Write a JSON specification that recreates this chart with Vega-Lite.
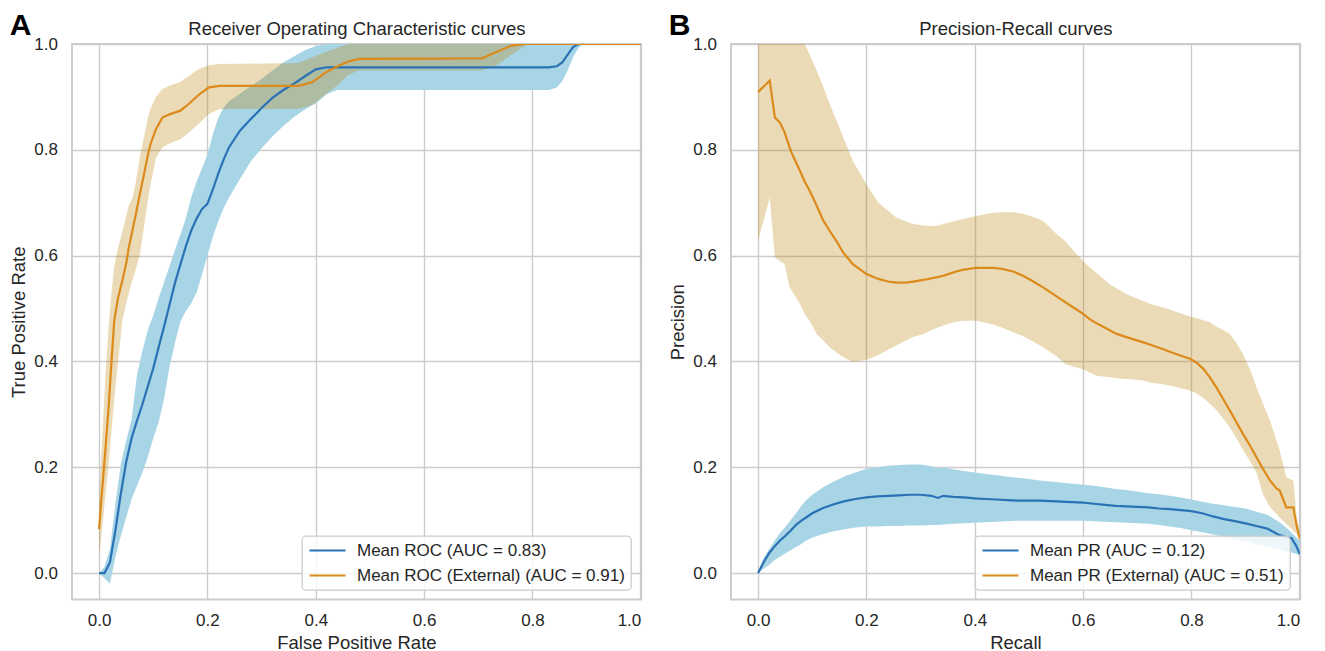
{
  "$schema": "https://vega.github.io/schema/vega-lite/v6.json",
  "padding": {"left": 8, "top": 9, "right": 5, "bottom": 3},
  "spacing": 25,
  "background": "white",
  "resolve": {"scale": {"color": "independent"}, "legend": {"color": "independent"}},
  "datasets": {
    "roc": [
      {"m": "Mean ROC (AUC = 0.83)", "x": 0, "mean": 0, "lo": 0, "hi": 0},
      {"m": "Mean ROC (AUC = 0.83)", "x": 0.01, "mean": 0, "lo": -0.01, "hi": 0.012},
      {"m": "Mean ROC (AUC = 0.83)", "x": 0.02, "mean": 0.02, "lo": -0.02, "hi": 0.045},
      {"m": "Mean ROC (AUC = 0.83)", "x": 0.03, "mean": 0.08, "lo": 0.03, "hi": 0.13},
      {"m": "Mean ROC (AUC = 0.83)", "x": 0.04, "mean": 0.149, "lo": 0.07, "hi": 0.205},
      {"m": "Mean ROC (AUC = 0.83)", "x": 0.05, "mean": 0.21, "lo": 0.105, "hi": 0.25},
      {"m": "Mean ROC (AUC = 0.83)", "x": 0.06, "mean": 0.255, "lo": 0.14, "hi": 0.29},
      {"m": "Mean ROC (AUC = 0.83)", "x": 0.07, "mean": 0.288, "lo": 0.165, "hi": 0.375},
      {"m": "Mean ROC (AUC = 0.83)", "x": 0.08, "mean": 0.319, "lo": 0.19, "hi": 0.42},
      {"m": "Mean ROC (AUC = 0.83)", "x": 0.09, "mean": 0.353, "lo": 0.22, "hi": 0.46},
      {"m": "Mean ROC (AUC = 0.83)", "x": 0.1, "mean": 0.387, "lo": 0.255, "hi": 0.487},
      {"m": "Mean ROC (AUC = 0.83)", "x": 0.11, "mean": 0.427, "lo": 0.285, "hi": 0.52},
      {"m": "Mean ROC (AUC = 0.83)", "x": 0.12, "mean": 0.466, "lo": 0.33, "hi": 0.55},
      {"m": "Mean ROC (AUC = 0.83)", "x": 0.13, "mean": 0.507, "lo": 0.39, "hi": 0.58},
      {"m": "Mean ROC (AUC = 0.83)", "x": 0.14, "mean": 0.548, "lo": 0.435, "hi": 0.61},
      {"m": "Mean ROC (AUC = 0.83)", "x": 0.15, "mean": 0.583, "lo": 0.475, "hi": 0.64},
      {"m": "Mean ROC (AUC = 0.83)", "x": 0.16, "mean": 0.617, "lo": 0.495, "hi": 0.67},
      {"m": "Mean ROC (AUC = 0.83)", "x": 0.17, "mean": 0.647, "lo": 0.51, "hi": 0.71},
      {"m": "Mean ROC (AUC = 0.83)", "x": 0.18, "mean": 0.67, "lo": 0.53, "hi": 0.74},
      {"m": "Mean ROC (AUC = 0.83)", "x": 0.19, "mean": 0.688, "lo": 0.565, "hi": 0.765},
      {"m": "Mean ROC (AUC = 0.83)", "x": 0.2, "mean": 0.698, "lo": 0.6, "hi": 0.79},
      {"m": "Mean ROC (AUC = 0.83)", "x": 0.21, "mean": 0.725, "lo": 0.635, "hi": 0.83},
      {"m": "Mean ROC (AUC = 0.83)", "x": 0.22, "mean": 0.755, "lo": 0.665, "hi": 0.86},
      {"m": "Mean ROC (AUC = 0.83)", "x": 0.23, "mean": 0.782, "lo": 0.69, "hi": 0.88},
      {"m": "Mean ROC (AUC = 0.83)", "x": 0.24, "mean": 0.805, "lo": 0.71, "hi": 0.892},
      {"m": "Mean ROC (AUC = 0.83)", "x": 0.26, "mean": 0.836, "lo": 0.745, "hi": 0.906},
      {"m": "Mean ROC (AUC = 0.83)", "x": 0.28, "mean": 0.858, "lo": 0.778, "hi": 0.92},
      {"m": "Mean ROC (AUC = 0.83)", "x": 0.3, "mean": 0.879, "lo": 0.803, "hi": 0.934},
      {"m": "Mean ROC (AUC = 0.83)", "x": 0.32, "mean": 0.898, "lo": 0.825, "hi": 0.95},
      {"m": "Mean ROC (AUC = 0.83)", "x": 0.34, "mean": 0.913, "lo": 0.845, "hi": 0.965},
      {"m": "Mean ROC (AUC = 0.83)", "x": 0.36, "mean": 0.925, "lo": 0.862, "hi": 0.977},
      {"m": "Mean ROC (AUC = 0.83)", "x": 0.38, "mean": 0.939, "lo": 0.876, "hi": 0.988},
      {"m": "Mean ROC (AUC = 0.83)", "x": 0.4, "mean": 0.952, "lo": 0.888, "hi": 0.996},
      {"m": "Mean ROC (AUC = 0.83)", "x": 0.42, "mean": 0.956, "lo": 0.905, "hi": 1.0},
      {"m": "Mean ROC (AUC = 0.83)", "x": 0.44, "mean": 0.956, "lo": 0.913, "hi": 1.0},
      {"m": "Mean ROC (AUC = 0.83)", "x": 0.6, "mean": 0.956, "lo": 0.913, "hi": 1.0},
      {"m": "Mean ROC (AUC = 0.83)", "x": 0.83, "mean": 0.956, "lo": 0.913, "hi": 1.0},
      {"m": "Mean ROC (AUC = 0.83)", "x": 0.845, "mean": 0.958, "lo": 0.918, "hi": 1.0},
      {"m": "Mean ROC (AUC = 0.83)", "x": 0.855, "mean": 0.965, "lo": 0.93, "hi": 1.0},
      {"m": "Mean ROC (AUC = 0.83)", "x": 0.865, "mean": 0.98, "lo": 0.95, "hi": 1.0},
      {"m": "Mean ROC (AUC = 0.83)", "x": 0.875, "mean": 0.994, "lo": 0.975, "hi": 1.0},
      {"m": "Mean ROC (AUC = 0.83)", "x": 0.885, "mean": 1.0, "lo": 0.993, "hi": 1.0},
      {"m": "Mean ROC (AUC = 0.83)", "x": 0.895, "mean": 1.0, "lo": 1.0, "hi": 1.0},
      {"m": "Mean ROC (AUC = 0.83)", "x": 1.0, "mean": 1.0, "lo": 1.0, "hi": 1.0},
      {"m": "Mean ROC (External) (AUC = 0.91)", "x": 0, "mean": 0.083, "lo": 0.03, "hi": 0.14},
      {"m": "Mean ROC (External) (AUC = 0.91)", "x": 0.006, "mean": 0.162, "lo": 0.09, "hi": 0.26},
      {"m": "Mean ROC (External) (AUC = 0.91)", "x": 0.012, "mean": 0.238, "lo": 0.15, "hi": 0.38},
      {"m": "Mean ROC (External) (AUC = 0.91)", "x": 0.018, "mean": 0.319, "lo": 0.21, "hi": 0.47},
      {"m": "Mean ROC (External) (AUC = 0.91)", "x": 0.023, "mean": 0.401, "lo": 0.27, "hi": 0.53},
      {"m": "Mean ROC (External) (AUC = 0.91)", "x": 0.028, "mean": 0.477, "lo": 0.33, "hi": 0.58},
      {"m": "Mean ROC (External) (AUC = 0.91)", "x": 0.035, "mean": 0.52, "lo": 0.4, "hi": 0.615},
      {"m": "Mean ROC (External) (AUC = 0.91)", "x": 0.043, "mean": 0.553, "lo": 0.477, "hi": 0.645},
      {"m": "Mean ROC (External) (AUC = 0.91)", "x": 0.05, "mean": 0.585, "lo": 0.51, "hi": 0.675},
      {"m": "Mean ROC (External) (AUC = 0.91)", "x": 0.055, "mean": 0.616, "lo": 0.53, "hi": 0.695},
      {"m": "Mean ROC (External) (AUC = 0.91)", "x": 0.062, "mean": 0.65, "lo": 0.555, "hi": 0.71},
      {"m": "Mean ROC (External) (AUC = 0.91)", "x": 0.068, "mean": 0.679, "lo": 0.575, "hi": 0.74},
      {"m": "Mean ROC (External) (AUC = 0.91)", "x": 0.075, "mean": 0.715, "lo": 0.6, "hi": 0.785},
      {"m": "Mean ROC (External) (AUC = 0.91)", "x": 0.083, "mean": 0.754, "lo": 0.655, "hi": 0.825},
      {"m": "Mean ROC (External) (AUC = 0.91)", "x": 0.09, "mean": 0.79, "lo": 0.705, "hi": 0.86},
      {"m": "Mean ROC (External) (AUC = 0.91)", "x": 0.095, "mean": 0.811, "lo": 0.735, "hi": 0.878},
      {"m": "Mean ROC (External) (AUC = 0.91)", "x": 0.105, "mean": 0.839, "lo": 0.785, "hi": 0.9},
      {"m": "Mean ROC (External) (AUC = 0.91)", "x": 0.117, "mean": 0.861, "lo": 0.805, "hi": 0.915},
      {"m": "Mean ROC (External) (AUC = 0.91)", "x": 0.13, "mean": 0.867, "lo": 0.812, "hi": 0.921},
      {"m": "Mean ROC (External) (AUC = 0.91)", "x": 0.15, "mean": 0.874, "lo": 0.82, "hi": 0.928},
      {"m": "Mean ROC (External) (AUC = 0.91)", "x": 0.166, "mean": 0.887, "lo": 0.833, "hi": 0.94},
      {"m": "Mean ROC (External) (AUC = 0.91)", "x": 0.185, "mean": 0.905, "lo": 0.85, "hi": 0.953},
      {"m": "Mean ROC (External) (AUC = 0.91)", "x": 0.203, "mean": 0.918, "lo": 0.868, "hi": 0.96},
      {"m": "Mean ROC (External) (AUC = 0.91)", "x": 0.222, "mean": 0.921, "lo": 0.877, "hi": 0.962},
      {"m": "Mean ROC (External) (AUC = 0.91)", "x": 0.369, "mean": 0.921, "lo": 0.877, "hi": 0.964},
      {"m": "Mean ROC (External) (AUC = 0.91)", "x": 0.394, "mean": 0.928, "lo": 0.885, "hi": 0.975},
      {"m": "Mean ROC (External) (AUC = 0.91)", "x": 0.418, "mean": 0.946, "lo": 0.905, "hi": 0.985},
      {"m": "Mean ROC (External) (AUC = 0.91)", "x": 0.44, "mean": 0.958, "lo": 0.922, "hi": 0.993},
      {"m": "Mean ROC (External) (AUC = 0.91)", "x": 0.46, "mean": 0.967, "lo": 0.942, "hi": 1.0},
      {"m": "Mean ROC (External) (AUC = 0.91)", "x": 0.48, "mean": 0.972, "lo": 0.95, "hi": 1.0},
      {"m": "Mean ROC (External) (AUC = 0.91)", "x": 0.707, "mean": 0.973, "lo": 0.95, "hi": 1.0},
      {"m": "Mean ROC (External) (AUC = 0.91)", "x": 0.731, "mean": 0.984, "lo": 0.958, "hi": 1.0},
      {"m": "Mean ROC (External) (AUC = 0.91)", "x": 0.762, "mean": 0.997, "lo": 0.98, "hi": 1.0},
      {"m": "Mean ROC (External) (AUC = 0.91)", "x": 0.785, "mean": 1.0, "lo": 0.996, "hi": 1.0},
      {"m": "Mean ROC (External) (AUC = 0.91)", "x": 0.795, "mean": 1.0, "lo": 1.0, "hi": 1.0},
      {"m": "Mean ROC (External) (AUC = 0.91)", "x": 1.0, "mean": 1.0, "lo": 1.0, "hi": 1.0}
    ],
    "pr": [
      {"m": "Mean PR (AUC = 0.12)", "x": 0, "mean": 0, "lo": 0, "hi": 0},
      {"m": "Mean PR (AUC = 0.12)", "x": 0.01, "mean": 0.02, "lo": 0.008, "hi": 0.028},
      {"m": "Mean PR (AUC = 0.12)", "x": 0.02, "mean": 0.037, "lo": 0.015, "hi": 0.045},
      {"m": "Mean PR (AUC = 0.12)", "x": 0.03, "mean": 0.05, "lo": 0.024, "hi": 0.06},
      {"m": "Mean PR (AUC = 0.12)", "x": 0.04, "mean": 0.061, "lo": 0.031, "hi": 0.075},
      {"m": "Mean PR (AUC = 0.12)", "x": 0.05, "mean": 0.07, "lo": 0.037, "hi": 0.087},
      {"m": "Mean PR (AUC = 0.12)", "x": 0.06, "mean": 0.08, "lo": 0.043, "hi": 0.1},
      {"m": "Mean PR (AUC = 0.12)", "x": 0.07, "mean": 0.091, "lo": 0.049, "hi": 0.113},
      {"m": "Mean PR (AUC = 0.12)", "x": 0.08, "mean": 0.099, "lo": 0.055, "hi": 0.127},
      {"m": "Mean PR (AUC = 0.12)", "x": 0.09, "mean": 0.106, "lo": 0.062, "hi": 0.139},
      {"m": "Mean PR (AUC = 0.12)", "x": 0.1, "mean": 0.113, "lo": 0.067, "hi": 0.148},
      {"m": "Mean PR (AUC = 0.12)", "x": 0.12, "mean": 0.123, "lo": 0.074, "hi": 0.162},
      {"m": "Mean PR (AUC = 0.12)", "x": 0.14, "mean": 0.13, "lo": 0.079, "hi": 0.173},
      {"m": "Mean PR (AUC = 0.12)", "x": 0.16, "mean": 0.136, "lo": 0.083, "hi": 0.183},
      {"m": "Mean PR (AUC = 0.12)", "x": 0.18, "mean": 0.14, "lo": 0.086, "hi": 0.19},
      {"m": "Mean PR (AUC = 0.12)", "x": 0.2, "mean": 0.143, "lo": 0.088, "hi": 0.197},
      {"m": "Mean PR (AUC = 0.12)", "x": 0.22, "mean": 0.145, "lo": 0.088, "hi": 0.2},
      {"m": "Mean PR (AUC = 0.12)", "x": 0.24, "mean": 0.146, "lo": 0.089, "hi": 0.203},
      {"m": "Mean PR (AUC = 0.12)", "x": 0.26, "mean": 0.147, "lo": 0.089, "hi": 0.204},
      {"m": "Mean PR (AUC = 0.12)", "x": 0.28, "mean": 0.148, "lo": 0.09, "hi": 0.205},
      {"m": "Mean PR (AUC = 0.12)", "x": 0.3, "mean": 0.148, "lo": 0.09, "hi": 0.205},
      {"m": "Mean PR (AUC = 0.12)", "x": 0.32, "mean": 0.146, "lo": 0.091, "hi": 0.202},
      {"m": "Mean PR (AUC = 0.12)", "x": 0.332, "mean": 0.142, "lo": 0.091, "hi": 0.198},
      {"m": "Mean PR (AUC = 0.12)", "x": 0.342, "mean": 0.146, "lo": 0.092, "hi": 0.2},
      {"m": "Mean PR (AUC = 0.12)", "x": 0.36, "mean": 0.144, "lo": 0.093, "hi": 0.196},
      {"m": "Mean PR (AUC = 0.12)", "x": 0.38, "mean": 0.143, "lo": 0.094, "hi": 0.193},
      {"m": "Mean PR (AUC = 0.12)", "x": 0.4, "mean": 0.141, "lo": 0.095, "hi": 0.19},
      {"m": "Mean PR (AUC = 0.12)", "x": 0.42, "mean": 0.14, "lo": 0.096, "hi": 0.187},
      {"m": "Mean PR (AUC = 0.12)", "x": 0.44, "mean": 0.139, "lo": 0.097, "hi": 0.185},
      {"m": "Mean PR (AUC = 0.12)", "x": 0.46, "mean": 0.138, "lo": 0.098, "hi": 0.182},
      {"m": "Mean PR (AUC = 0.12)", "x": 0.48, "mean": 0.137, "lo": 0.099, "hi": 0.18},
      {"m": "Mean PR (AUC = 0.12)", "x": 0.5, "mean": 0.137, "lo": 0.099, "hi": 0.178},
      {"m": "Mean PR (AUC = 0.12)", "x": 0.52, "mean": 0.137, "lo": 0.099, "hi": 0.175},
      {"m": "Mean PR (AUC = 0.12)", "x": 0.54, "mean": 0.136, "lo": 0.099, "hi": 0.173},
      {"m": "Mean PR (AUC = 0.12)", "x": 0.56, "mean": 0.135, "lo": 0.099, "hi": 0.171},
      {"m": "Mean PR (AUC = 0.12)", "x": 0.58, "mean": 0.134, "lo": 0.099, "hi": 0.169},
      {"m": "Mean PR (AUC = 0.12)", "x": 0.6, "mean": 0.133, "lo": 0.099, "hi": 0.167},
      {"m": "Mean PR (AUC = 0.12)", "x": 0.62, "mean": 0.131, "lo": 0.098, "hi": 0.165},
      {"m": "Mean PR (AUC = 0.12)", "x": 0.64, "mean": 0.129, "lo": 0.097, "hi": 0.162},
      {"m": "Mean PR (AUC = 0.12)", "x": 0.66, "mean": 0.127, "lo": 0.096, "hi": 0.159},
      {"m": "Mean PR (AUC = 0.12)", "x": 0.68, "mean": 0.126, "lo": 0.095, "hi": 0.157},
      {"m": "Mean PR (AUC = 0.12)", "x": 0.7, "mean": 0.125, "lo": 0.094, "hi": 0.154},
      {"m": "Mean PR (AUC = 0.12)", "x": 0.72, "mean": 0.124, "lo": 0.093, "hi": 0.151},
      {"m": "Mean PR (AUC = 0.12)", "x": 0.74, "mean": 0.122, "lo": 0.091, "hi": 0.149},
      {"m": "Mean PR (AUC = 0.12)", "x": 0.76, "mean": 0.121, "lo": 0.088, "hi": 0.146},
      {"m": "Mean PR (AUC = 0.12)", "x": 0.78, "mean": 0.119, "lo": 0.085, "hi": 0.143},
      {"m": "Mean PR (AUC = 0.12)", "x": 0.8, "mean": 0.117, "lo": 0.081, "hi": 0.139},
      {"m": "Mean PR (AUC = 0.12)", "x": 0.82, "mean": 0.113, "lo": 0.077, "hi": 0.135},
      {"m": "Mean PR (AUC = 0.12)", "x": 0.84, "mean": 0.107, "lo": 0.073, "hi": 0.131},
      {"m": "Mean PR (AUC = 0.12)", "x": 0.86, "mean": 0.102, "lo": 0.068, "hi": 0.128},
      {"m": "Mean PR (AUC = 0.12)", "x": 0.88, "mean": 0.098, "lo": 0.064, "hi": 0.125},
      {"m": "Mean PR (AUC = 0.12)", "x": 0.9, "mean": 0.094, "lo": 0.06, "hi": 0.122},
      {"m": "Mean PR (AUC = 0.12)", "x": 0.92, "mean": 0.089, "lo": 0.054, "hi": 0.116},
      {"m": "Mean PR (AUC = 0.12)", "x": 0.94, "mean": 0.084, "lo": 0.05, "hi": 0.11},
      {"m": "Mean PR (AUC = 0.12)", "x": 0.96, "mean": 0.073, "lo": 0.045, "hi": 0.098},
      {"m": "Mean PR (AUC = 0.12)", "x": 0.975, "mean": 0.068, "lo": 0.041, "hi": 0.086},
      {"m": "Mean PR (AUC = 0.12)", "x": 0.985, "mean": 0.066, "lo": 0.039, "hi": 0.076},
      {"m": "Mean PR (AUC = 0.12)", "x": 0.994, "mean": 0.05, "lo": 0.036, "hi": 0.067},
      {"m": "Mean PR (AUC = 0.12)", "x": 1.0, "mean": 0.036, "lo": 0.033, "hi": 0.06},
      {"m": "Mean PR (External) (AUC = 0.51)", "x": 0, "mean": 0.909, "lo": 0.628, "hi": 1.0},
      {"m": "Mean PR (External) (AUC = 0.51)", "x": 0.0215, "mean": 0.931, "lo": 0.71, "hi": 1.0},
      {"m": "Mean PR (External) (AUC = 0.51)", "x": 0.031, "mean": 0.861, "lo": 0.597, "hi": 1.0},
      {"m": "Mean PR (External) (AUC = 0.51)", "x": 0.04, "mean": 0.852, "lo": 0.59, "hi": 1.0},
      {"m": "Mean PR (External) (AUC = 0.51)", "x": 0.049, "mean": 0.833, "lo": 0.584, "hi": 1.0},
      {"m": "Mean PR (External) (AUC = 0.51)", "x": 0.058, "mean": 0.805, "lo": 0.54, "hi": 1.0},
      {"m": "Mean PR (External) (AUC = 0.51)", "x": 0.0615, "mean": 0.795, "lo": 0.535, "hi": 1.0},
      {"m": "Mean PR (External) (AUC = 0.51)", "x": 0.077, "mean": 0.761, "lo": 0.509, "hi": 1.0},
      {"m": "Mean PR (External) (AUC = 0.51)", "x": 0.086, "mean": 0.74, "lo": 0.49, "hi": 1.0},
      {"m": "Mean PR (External) (AUC = 0.51)", "x": 0.095, "mean": 0.723, "lo": 0.477, "hi": 0.98},
      {"m": "Mean PR (External) (AUC = 0.51)", "x": 0.108, "mean": 0.695, "lo": 0.452, "hi": 0.95},
      {"m": "Mean PR (External) (AUC = 0.51)", "x": 0.12, "mean": 0.667, "lo": 0.44, "hi": 0.92},
      {"m": "Mean PR (External) (AUC = 0.51)", "x": 0.132, "mean": 0.647, "lo": 0.427, "hi": 0.887},
      {"m": "Mean PR (External) (AUC = 0.51)", "x": 0.145, "mean": 0.627, "lo": 0.417, "hi": 0.855},
      {"m": "Mean PR (External) (AUC = 0.51)", "x": 0.157, "mean": 0.606, "lo": 0.408, "hi": 0.824},
      {"m": "Mean PR (External) (AUC = 0.51)", "x": 0.175, "mean": 0.584, "lo": 0.399, "hi": 0.779},
      {"m": "Mean PR (External) (AUC = 0.51)", "x": 0.2, "mean": 0.565, "lo": 0.403, "hi": 0.735},
      {"m": "Mean PR (External) (AUC = 0.51)", "x": 0.222, "mean": 0.556, "lo": 0.412, "hi": 0.7},
      {"m": "Mean PR (External) (AUC = 0.51)", "x": 0.24, "mean": 0.551, "lo": 0.422, "hi": 0.685},
      {"m": "Mean PR (External) (AUC = 0.51)", "x": 0.255, "mean": 0.549, "lo": 0.43, "hi": 0.672},
      {"m": "Mean PR (External) (AUC = 0.51)", "x": 0.274, "mean": 0.549, "lo": 0.44, "hi": 0.664},
      {"m": "Mean PR (External) (AUC = 0.51)", "x": 0.286, "mean": 0.551, "lo": 0.446, "hi": 0.66},
      {"m": "Mean PR (External) (AUC = 0.51)", "x": 0.305, "mean": 0.554, "lo": 0.452, "hi": 0.657},
      {"m": "Mean PR (External) (AUC = 0.51)", "x": 0.329, "mean": 0.559, "lo": 0.463, "hi": 0.656},
      {"m": "Mean PR (External) (AUC = 0.51)", "x": 0.342, "mean": 0.562, "lo": 0.468, "hi": 0.66},
      {"m": "Mean PR (External) (AUC = 0.51)", "x": 0.354, "mean": 0.566, "lo": 0.472, "hi": 0.663},
      {"m": "Mean PR (External) (AUC = 0.51)", "x": 0.366, "mean": 0.57, "lo": 0.475, "hi": 0.666},
      {"m": "Mean PR (External) (AUC = 0.51)", "x": 0.378, "mean": 0.573, "lo": 0.477, "hi": 0.669},
      {"m": "Mean PR (External) (AUC = 0.51)", "x": 0.403, "mean": 0.577, "lo": 0.477, "hi": 0.675},
      {"m": "Mean PR (External) (AUC = 0.51)", "x": 0.434, "mean": 0.577, "lo": 0.47, "hi": 0.681},
      {"m": "Mean PR (External) (AUC = 0.51)", "x": 0.45, "mean": 0.575, "lo": 0.464, "hi": 0.682},
      {"m": "Mean PR (External) (AUC = 0.51)", "x": 0.471, "mean": 0.57, "lo": 0.455, "hi": 0.682},
      {"m": "Mean PR (External) (AUC = 0.51)", "x": 0.489, "mean": 0.562, "lo": 0.448, "hi": 0.679},
      {"m": "Mean PR (External) (AUC = 0.51)", "x": 0.505, "mean": 0.553, "lo": 0.439, "hi": 0.674},
      {"m": "Mean PR (External) (AUC = 0.51)", "x": 0.526, "mean": 0.54, "lo": 0.427, "hi": 0.666},
      {"m": "Mean PR (External) (AUC = 0.51)", "x": 0.551, "mean": 0.523, "lo": 0.41, "hi": 0.641},
      {"m": "Mean PR (External) (AUC = 0.51)", "x": 0.567, "mean": 0.512, "lo": 0.395, "hi": 0.627},
      {"m": "Mean PR (External) (AUC = 0.51)", "x": 0.582, "mean": 0.502, "lo": 0.39, "hi": 0.609},
      {"m": "Mean PR (External) (AUC = 0.51)", "x": 0.6, "mean": 0.49, "lo": 0.385, "hi": 0.59},
      {"m": "Mean PR (External) (AUC = 0.51)", "x": 0.612, "mean": 0.48, "lo": 0.379, "hi": 0.578},
      {"m": "Mean PR (External) (AUC = 0.51)", "x": 0.625, "mean": 0.472, "lo": 0.373, "hi": 0.567},
      {"m": "Mean PR (External) (AUC = 0.51)", "x": 0.649, "mean": 0.459, "lo": 0.37, "hi": 0.546},
      {"m": "Mean PR (External) (AUC = 0.51)", "x": 0.662, "mean": 0.452, "lo": 0.368, "hi": 0.538},
      {"m": "Mean PR (External) (AUC = 0.51)", "x": 0.68, "mean": 0.446, "lo": 0.367, "hi": 0.527},
      {"m": "Mean PR (External) (AUC = 0.51)", "x": 0.711, "mean": 0.436, "lo": 0.364, "hi": 0.514},
      {"m": "Mean PR (External) (AUC = 0.51)", "x": 0.723, "mean": 0.432, "lo": 0.36, "hi": 0.509},
      {"m": "Mean PR (External) (AUC = 0.51)", "x": 0.748, "mean": 0.423, "lo": 0.357, "hi": 0.502},
      {"m": "Mean PR (External) (AUC = 0.51)", "x": 0.766, "mean": 0.416, "lo": 0.353, "hi": 0.496},
      {"m": "Mean PR (External) (AUC = 0.51)", "x": 0.797, "mean": 0.405, "lo": 0.345, "hi": 0.485},
      {"m": "Mean PR (External) (AUC = 0.51)", "x": 0.809, "mean": 0.398, "lo": 0.34, "hi": 0.482},
      {"m": "Mean PR (External) (AUC = 0.51)", "x": 0.822, "mean": 0.386, "lo": 0.331, "hi": 0.478},
      {"m": "Mean PR (External) (AUC = 0.51)", "x": 0.834, "mean": 0.37, "lo": 0.32, "hi": 0.474},
      {"m": "Mean PR (External) (AUC = 0.51)", "x": 0.846, "mean": 0.351, "lo": 0.308, "hi": 0.466},
      {"m": "Mean PR (External) (AUC = 0.51)", "x": 0.858, "mean": 0.33, "lo": 0.293, "hi": 0.46},
      {"m": "Mean PR (External) (AUC = 0.51)", "x": 0.871, "mean": 0.307, "lo": 0.275, "hi": 0.452},
      {"m": "Mean PR (External) (AUC = 0.51)", "x": 0.883, "mean": 0.285, "lo": 0.255, "hi": 0.435},
      {"m": "Mean PR (External) (AUC = 0.51)", "x": 0.895, "mean": 0.263, "lo": 0.233, "hi": 0.414},
      {"m": "Mean PR (External) (AUC = 0.51)", "x": 0.908, "mean": 0.241, "lo": 0.212, "hi": 0.385},
      {"m": "Mean PR (External) (AUC = 0.51)", "x": 0.92, "mean": 0.219, "lo": 0.19, "hi": 0.351},
      {"m": "Mean PR (External) (AUC = 0.51)", "x": 0.932, "mean": 0.197, "lo": 0.149, "hi": 0.32},
      {"m": "Mean PR (External) (AUC = 0.51)", "x": 0.945, "mean": 0.175, "lo": 0.125, "hi": 0.288},
      {"m": "Mean PR (External) (AUC = 0.51)", "x": 0.957, "mean": 0.16, "lo": 0.112, "hi": 0.25},
      {"m": "Mean PR (External) (AUC = 0.51)", "x": 0.963, "mean": 0.156, "lo": 0.105, "hi": 0.231},
      {"m": "Mean PR (External) (AUC = 0.51)", "x": 0.975, "mean": 0.124, "lo": 0.093, "hi": 0.181},
      {"m": "Mean PR (External) (AUC = 0.51)", "x": 0.988, "mean": 0.124, "lo": 0.08, "hi": 0.175},
      {"m": "Mean PR (External) (AUC = 0.51)", "x": 0.995, "mean": 0.085, "lo": 0.073, "hi": 0.099},
      {"m": "Mean PR (External) (AUC = 0.51)", "x": 1.0, "mean": 0.065, "lo": 0.06, "hi": 0.08}
    ]
  },
  "config": {
    "font": "Liberation Sans",
    "view": {"stroke": "#cccccc", "strokeWidth": 1.9},
    "axis": {
      "domain": false, "ticks": false, "tickSize": 0,
      "gridColor": "#cccccc", "gridWidth": 1.4, "gridOpacity": 1,
      "labelFont": "Liberation Sans", "labelFontSize": 17, "labelColor": "#262626",
      "titleFont": "Liberation Sans", "titleFontSize": 18.5, "titleFontWeight": "normal", "titleColor": "#262626"
    },
    "legend": {
      "orient": "bottom-right", "offset": 10,
      "fillColor": "rgba(255,255,255,0.8)", "strokeColor": "#cccccc", "strokeWidth": 1.3, "cornerRadius": 4,
      "padding": 6, "rowPadding": 7,
      "labelFont": "Liberation Sans", "labelFontSize": 17, "labelColor": "#262626", "labelLimit": 400,
      "symbolType": "M-3,0H3", "symbolSize": 144, "symbolStrokeWidth": 2.2, "symbolOffset": 11, "labelOffset": 21
    }
  },
  "hconcat": [
    {
      "title": {"text": "A", "anchor": "start", "frame": "bounds", "fontSize": 30, "fontWeight": "bold", "color": "#000000", "baseline": "alphabetic", "offset": -31.7, "dy": 14},
      "width": 568.8,
      "height": 555.5,
      "data": {"name": "roc"},
      "resolve": {"axis": {"x": "independent"}},
      "layer": [
        {
          "transform": [{"filter": {"field": "m", "equal": "Mean ROC (AUC = 0.83)"}}],
          "mark": {"type": "area", "color": "#a8d5e6", "opacity": 1, "clip": true},
          "encoding": {
            "x": {"field": "x", "type": "quantitative", "scale": {"domain": [-0.05, 1.0], "nice": false, "zero": false},
                  "axis": {"title": "False Positive Rate", "titleFontSize": 18.5, "values": [0, 0.2, 0.4, 0.6, 0.8, 1.0], "format": ".1f", "labelPadding": 12.5, "titlePadding": 5}},
            "y": {"field": "lo", "type": "quantitative", "scale": {"domain": [-0.05, 1.0], "nice": false, "zero": false},
                  "axis": {"title": "True Positive Rate", "titleFontSize": 18.5, "values": [0, 0.2, 0.4, 0.6, 0.8, 1.0], "format": ".1f", "labelPadding": 14.5, "titlePadding": 5}},
            "y2": {"field": "hi"}
          }
        },
        {
          "transform": [{"filter": {"field": "m", "equal": "Mean ROC (External) (AUC = 0.91)"}}],
          "mark": {"type": "area", "color": "#b8860b", "opacity": 0.3, "clip": true},
          "encoding": {
            "x": {"field": "x", "type": "quantitative", "axis": null},
            "y": {"field": "lo", "type": "quantitative"},
            "y2": {"field": "hi"}
          }
        },
        {
          "mark": {"type": "line", "strokeWidth": 2.2, "clip": true},
          "encoding": {
            "x": {"field": "x", "type": "quantitative",
                  "axis": {"orient": "top", "title": "Receiver Operating Characteristic curves", "titleFontSize": 18.5, "labels": false, "ticks": false, "domain": false, "grid": false, "titlePadding": 10, "titleBaseline": "alphabetic"}},
            "y": {"field": "mean", "type": "quantitative"},
            "color": {"field": "m", "type": "nominal",
                      "scale": {"domain": ["Mean ROC (AUC = 0.83)", "Mean ROC (External) (AUC = 0.91)"], "range": ["#2a72b5", "#dc8a1b"]},
                      "legend": {"title": null}}
          }
        }
      ]
    },
    {
      "title": {"text": "B", "anchor": "start", "frame": "bounds", "fontSize": 30, "fontWeight": "bold", "color": "#000000", "baseline": "alphabetic", "offset": -31.7, "dy": 14},
      "width": 568.8,
      "height": 555.5,
      "data": {"name": "pr"},
      "resolve": {"axis": {"x": "independent"}},
      "layer": [
        {
          "transform": [{"filter": {"field": "m", "equal": "Mean PR (AUC = 0.12)"}}],
          "mark": {"type": "area", "color": "#a8d5e6", "opacity": 1, "clip": true},
          "encoding": {
            "x": {"field": "x", "type": "quantitative", "scale": {"domain": [-0.05, 1.0], "nice": false, "zero": false},
                  "axis": {"title": "Recall", "titleFontSize": 18.5, "values": [0, 0.2, 0.4, 0.6, 0.8, 1.0], "format": ".1f", "labelPadding": 12.5, "titlePadding": 5}},
            "y": {"field": "lo", "type": "quantitative", "scale": {"domain": [-0.05, 1.0], "nice": false, "zero": false},
                  "axis": {"title": "Precision", "titleFontSize": 18.5, "values": [0, 0.2, 0.4, 0.6, 0.8, 1.0], "format": ".1f", "labelPadding": 14.5, "titlePadding": 5}},
            "y2": {"field": "hi"}
          }
        },
        {
          "transform": [{"filter": {"field": "m", "equal": "Mean PR (External) (AUC = 0.51)"}}],
          "mark": {"type": "area", "color": "#b8860b", "opacity": 0.3, "clip": true},
          "encoding": {
            "x": {"field": "x", "type": "quantitative", "axis": null},
            "y": {"field": "lo", "type": "quantitative"},
            "y2": {"field": "hi"}
          }
        },
        {
          "mark": {"type": "line", "strokeWidth": 2.2, "clip": true},
          "encoding": {
            "x": {"field": "x", "type": "quantitative",
                  "axis": {"orient": "top", "title": "Precision-Recall curves", "titleFontSize": 18.5, "labels": false, "ticks": false, "domain": false, "grid": false, "titlePadding": 10, "titleBaseline": "alphabetic"}},
            "y": {"field": "mean", "type": "quantitative"},
            "color": {"field": "m", "type": "nominal",
                      "scale": {"domain": ["Mean PR (AUC = 0.12)", "Mean PR (External) (AUC = 0.51)"], "range": ["#2a72b5", "#dc8a1b"]},
                      "legend": {"title": null}}
          }
        }
      ]
    }
  ]
}
